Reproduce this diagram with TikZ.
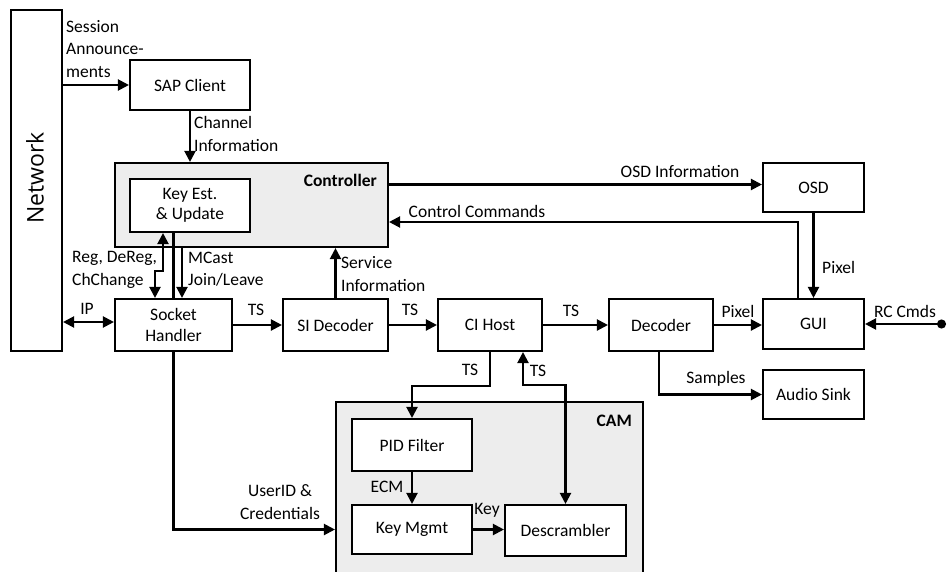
\documentclass[tikz,border=0pt]{standalone}
\usepackage{fontspec}
\setmainfont{Carlito}
\newfontfamily\netfont{Open Sans}
\usetikzlibrary{arrows.meta}
\definecolor{panelgray}{HTML}{EDEDED}
\tikzset{
  tip/.tip={Triangle[length=11pt,width=11pt]},
  blk/.style={draw, line width=2.1pt, fill=white, inner sep=0pt, align=center},
  panel/.style={draw, line width=2.1pt, fill=panelgray, inner sep=0pt},
  arr/.style={line width=2.1pt, -tip},
  arrtwo/.style={line width=2.1pt, tip-tip},
  wire/.style={line width=2.1pt},
  lbl/.style={inner sep=0pt, align=left},
  title/.style={inner sep=0pt, font=\fontsize{17.5}{22.5}\selectfont\bfseries}
}
\begin{document}
\begin{tikzpicture}[x=1pt, y=-1pt, font=\fontsize{17.5}{22.5}\selectfont]
\useasboundingbox (0,0) rectangle (949,572);

% grouping panels
\node[panel, minimum width=273pt, minimum height=84pt] (ctrl) at (251.5,205) {};
\node[panel, minimum width=307pt, minimum height=176pt] (cam) at (489.5,490) {};
\node[title, anchor=base east] (ctrltitle) at (377,186) {Controller};
\node[title, anchor=base east] (camtitle) at (632,426) {CAM};

% blocks
\node[blk, minimum width=51pt, minimum height=341pt] (net) at (36.5,180.5) {};
\node[rotate=90, inner sep=0pt, font=\netfont\fontsize{23}{26}\selectfont] (nettext) at (35,178) {Network};
\node[blk, minimum width=120pt, minimum height=50pt] (sap) at (190,85) {SAP Client};
\node[blk, minimum width=120pt, minimum height=53pt] (key) at (190,205.5) {Key Est.\\[-2pt]\& Update};
\node[blk, minimum width=117pt, minimum height=52pt] (sock) at (173.5,325) {Socket\\[-2pt]Handler};
\node[blk, minimum width=105pt, minimum height=52pt] (si) at (335.5,325) {SI Decoder};
\node[blk, minimum width=104pt, minimum height=52pt] (ci) at (490,325) {CI Host};
\node[blk, minimum width=104pt, minimum height=52pt] (dec) at (661,325) {Decoder};
\node[blk, minimum width=101pt, minimum height=50pt] (gui) at (813.5,324) {GUI};
\node[blk, minimum width=101pt, minimum height=49pt] (osd) at (813.5,187.5) {OSD};
\node[blk, minimum width=101pt, minimum height=49pt] (audio) at (813.5,394.5) {Audio Sink};
\node[blk, minimum width=120pt, minimum height=52pt] (pid) at (412,445) {PID Filter};
\node[blk, minimum width=120pt, minimum height=49pt] (km) at (412,529.5) {Key Mgmt};
\node[blk, minimum width=121pt, minimum height=51pt] (desc) at (565.5,530.5) {Descrambler};
\coordinate (rc) at (946,324);

% connectors
\draw[arr] (sap.west -| net.east) -- (sap.west);
\draw[arr] (sap.south) -- (sap.south |- ctrl.north);
\draw[arrtwo] ([xshift=-27pt]key.south) -- ++(0,38) -| ([xshift=-18.5pt]sock.north);
\draw[wire] (key.south -| sock.north) -- (sock.north);
\draw[arr] ([xshift=8.5pt]sock.north |- ctrl.south) -- ([xshift=8.5pt]sock.north);
\draw[arrtwo] ([yshift=3pt]sock.west -| net.east) -- ([yshift=3pt]sock.west);
\draw[arr] (sock.east) -- (si.west);
\draw[arr] (si.north) -- (si.north |- ctrl.south);
\draw[arr] (si.east) -- (ci.west);
\draw[arr] (ci.east) -- (dec.west);
\draw[arr] (dec.east) -- (dec.east -| gui.west);
\draw[line width=2.1pt, {Circle[length=9pt]}-tip] (rc) -- (gui.east);
\draw[arr] ([yshift=3pt]osd.west -| ctrl.east) -- ([yshift=3pt]osd.west);
\draw[arr] ([xshift=-15.5pt]gui.north) |- ([yshift=-17pt]ctrl.east);
\draw[arr] (osd.south) -- (gui.north |- osd.south) -- (gui.north);
\draw[arr] ([xshift=-2pt]dec.south) |- (audio.west);
\draw[arr] (ci.south) -- ++(0,34) -| (pid.north);
\draw[arrtwo] ([xshift=33pt]ci.south) -- ++(0,33) -| (desc.north);
\draw[arr] (pid.south) -- (km.north);
\draw[arr] (km.east) -- (km.east -| desc.west);
\draw[arr] (sock.south) |- (km.east -| cam.west);

% connector labels
\node[lbl, anchor=north west] (lsession) at (66,20) {Session\\Announce-\\ments};
\node[lbl, anchor=west] (lchan) at (194,134) {Channel\\Information};
\node[lbl, anchor=west] (lreg) at (72,270) {Reg, DeReg,\\ChChange};
\node[lbl, anchor=west] (lmcast) at (188,269) {MCast\\Join/Leave};
\node[lbl] (lip) at (87,309) {IP};
\node[lbl] (lts1) at (256,310) {TS};
\node[lbl, anchor=west] (lsvc) at (341,274) {Service\\Information};
\node[lbl] (lts2) at (410,310) {TS};
\node[lbl] (lts3) at (571,311) {TS};
\node[lbl] (lpix1) at (738,311) {Pixel};
\node[lbl] (lrc) at (905,311) {RC Cmds};
\node[lbl] (losd) at (680,172) {OSD Information};
\node[lbl] (lcc) at (477,211) {Control Commands};
\node[lbl, anchor=west] (lpix2) at (822,267) {Pixel};
\node[lbl] (lsamp) at (716,379) {Samples};
\node[lbl] (lts4) at (470,370) {TS};
\node[lbl] (lts5) at (538,371) {TS};
\node[lbl] (lecm) at (387,487) {ECM};
\node[lbl] (lkey) at (487,510) {Key};
\node[inner sep=0pt, align=center] (luser) at (280,502) {UserID \&\\Credentials};
\end{tikzpicture}
\end{document}
